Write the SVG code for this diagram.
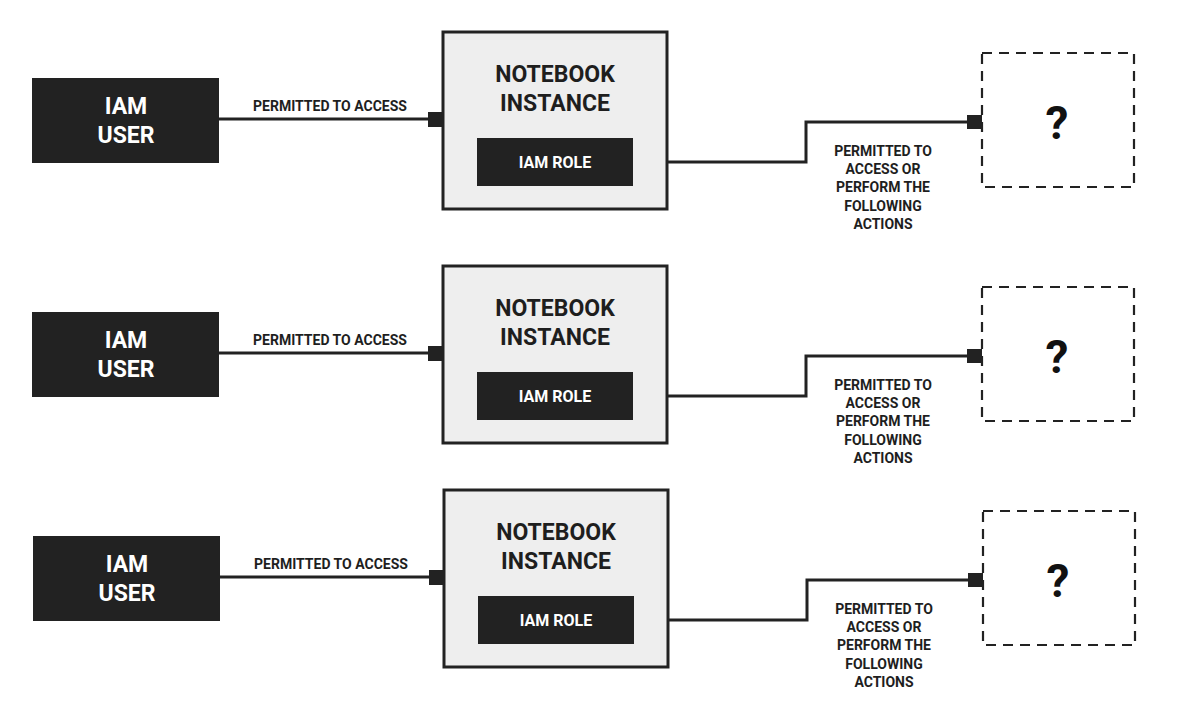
<svg xmlns="http://www.w3.org/2000/svg" width="1177" height="722" viewBox="0 0 1177 722">
<style>
  text { font-family: Roboto, "Liberation Sans", Arial, sans-serif; font-weight: 700; text-anchor: middle; }
  .dark { fill: #222222; }
  .wt { fill: #ffffff; }
  .big { font-size: 23px; }
  .role { font-size: 16px; }
  .lbl { font-size: 14px; fill: #1e1e1e; }
  .nb { fill: #eeeeee; stroke: #222222; stroke-width: 3; }
  .nbt { font-size: 23px; fill: #1e1e1e; }
  .dash { fill: #ffffff; stroke: #222222; stroke-width: 2.2; stroke-dasharray: 10 7; }
  .q { font-size: 46px; fill: #111111; }
  .wire { fill: none; stroke: #222222; stroke-width: 3; }
  .port { fill: #222222; }
</style>
<rect width="1177" height="722" fill="#ffffff"/>

<!-- Row 1 -->
<g id="row1">
  <g id="connectors1">
    <line class="wire" x1="219" y1="119" x2="430" y2="119"/>
    <rect class="port" x="428" y="112" width="15" height="15"/>
    <path class="wire" d="M633,162 H806 V122 H970"/>
    <rect class="port" x="967" y="115" width="15" height="14"/>
    <text class="lbl" x="330" y="111">PERMITTED TO ACCESS</text>
    <text class="lbl" x="883" y="156">PERMITTED TO</text>
    <text class="lbl" x="883" y="174">ACCESS OR</text>
    <text class="lbl" x="883" y="192">PERFORM THE</text>
    <text class="lbl" x="883" y="211">FOLLOWING</text>
    <text class="lbl" x="883" y="229">ACTIONS</text>
  </g>
  <g id="iam-user-1">
    <rect class="dark" x="32" y="78" width="187" height="85"/>
    <text class="wt big" x="126" y="114">IAM</text>
    <text class="wt big" x="126" y="143">USER</text>
  </g>
  <g id="notebook-1">
    <rect class="nb" x="443" y="32" width="224" height="177"/>
    <text class="nbt" x="555" y="82">NOTEBOOK</text>
    <text class="nbt" x="555" y="111">INSTANCE</text>
  </g>
  <g id="iam-role-1">
    <rect class="dark" x="477" y="138" width="156" height="48"/>
    <text class="wt role" x="555" y="168">IAM ROLE</text>
  </g>
  <g id="unknown-1">
    <rect class="dash" x="982" y="53" width="152" height="134"/>
    <text class="q" x="1057" y="139">?</text>
  </g>
</g>

<!-- Row 2 -->
<g id="row2" transform="translate(0,234)">
  <g id="connectors2">
    <line class="wire" x1="219" y1="119" x2="430" y2="119"/>
    <rect class="port" x="428" y="112" width="15" height="15"/>
    <path class="wire" d="M633,162 H806 V122 H970"/>
    <rect class="port" x="967" y="115" width="15" height="14"/>
    <text class="lbl" x="330" y="111">PERMITTED TO ACCESS</text>
    <text class="lbl" x="883" y="156">PERMITTED TO</text>
    <text class="lbl" x="883" y="174">ACCESS OR</text>
    <text class="lbl" x="883" y="192">PERFORM THE</text>
    <text class="lbl" x="883" y="211">FOLLOWING</text>
    <text class="lbl" x="883" y="229">ACTIONS</text>
  </g>
  <g id="iam-user-2">
    <rect class="dark" x="32" y="78" width="187" height="85"/>
    <text class="wt big" x="126" y="114">IAM</text>
    <text class="wt big" x="126" y="143">USER</text>
  </g>
  <g id="notebook-2">
    <rect class="nb" x="443" y="32" width="224" height="177"/>
    <text class="nbt" x="555" y="82">NOTEBOOK</text>
    <text class="nbt" x="555" y="111">INSTANCE</text>
  </g>
  <g id="iam-role-2">
    <rect class="dark" x="477" y="138" width="156" height="48"/>
    <text class="wt role" x="555" y="168">IAM ROLE</text>
  </g>
  <g id="unknown-2">
    <rect class="dash" x="982" y="53" width="152" height="134"/>
    <text class="q" x="1057" y="139">?</text>
  </g>
</g>

<!-- Row 3 -->
<g id="row3" transform="translate(1,458)">
  <g id="connectors3">
    <line class="wire" x1="219" y1="119" x2="430" y2="119"/>
    <rect class="port" x="428" y="112" width="15" height="15"/>
    <path class="wire" d="M633,162 H806 V122 H970"/>
    <rect class="port" x="967" y="115" width="15" height="14"/>
    <text class="lbl" x="330" y="111">PERMITTED TO ACCESS</text>
    <text class="lbl" x="883" y="156">PERMITTED TO</text>
    <text class="lbl" x="883" y="174">ACCESS OR</text>
    <text class="lbl" x="883" y="192">PERFORM THE</text>
    <text class="lbl" x="883" y="211">FOLLOWING</text>
    <text class="lbl" x="883" y="229">ACTIONS</text>
  </g>
  <g id="iam-user-3">
    <rect class="dark" x="32" y="78" width="187" height="85"/>
    <text class="wt big" x="126" y="114">IAM</text>
    <text class="wt big" x="126" y="143">USER</text>
  </g>
  <g id="notebook-3">
    <rect class="nb" x="443" y="32" width="224" height="177"/>
    <text class="nbt" x="555" y="82">NOTEBOOK</text>
    <text class="nbt" x="555" y="111">INSTANCE</text>
  </g>
  <g id="iam-role-3">
    <rect class="dark" x="477" y="138" width="156" height="48"/>
    <text class="wt role" x="555" y="168">IAM ROLE</text>
  </g>
  <g id="unknown-3">
    <rect class="dash" x="982" y="53" width="152" height="134"/>
    <text class="q" x="1057" y="139">?</text>
  </g>
</g>
</svg>
